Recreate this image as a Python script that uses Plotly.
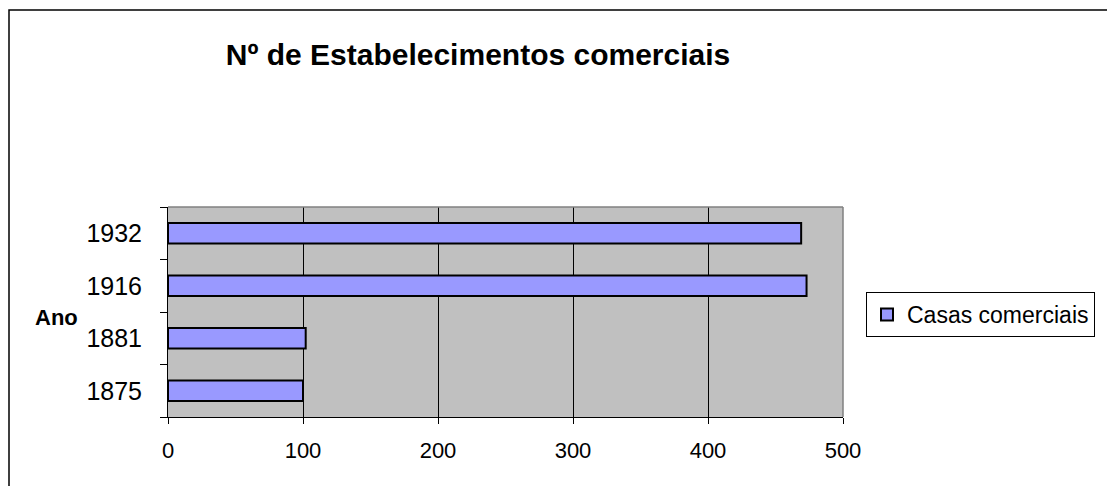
import plotly.graph_objects as go

categories = ["1875", "1881", "1916", "1932"]
values = [100, 102, 473, 469]
series_name = "Casas comerciais"
x_ticks = [0, 100, 200, 300, 400, 500]

W, H = 1107, 486
L, R, T, B = 168, 843, 207, 417

fig = go.Figure()
fig.add_trace(go.Bar(
    y=categories, x=values, orientation="h", name=series_name,
    marker=dict(color="#9999FF", line=dict(color="black", width=2)),
    width=0.39, showlegend=True,
))

def px(x):
    return (x - L) / (R - L)

def py(y):
    return (B - y) / (B - T)

FONT = "Liberation Sans, Arial, sans-serif"

fig.update_layout(
    width=W, height=H,
    margin=dict(l=L, r=W - R, t=T, b=H - B, pad=0, autoexpand=False),
    paper_bgcolor="white",
    plot_bgcolor="#C0C0C0",
    font=dict(family=FONT, color="black"),
    title=dict(text="<b>Nº de Estabelecimentos comerciais</b>", x=px(478), xref="paper",
               xanchor="center", y=1 - 54 / H, yanchor="middle", yref="container",
               font=dict(size=30, family=FONT), automargin=False),
    xaxis=dict(range=[0, 500], tickvals=x_ticks, showgrid=True, gridcolor="black", gridwidth=1,
               zeroline=False, showline=True, linecolor="black", linewidth=1,
               ticks="outside", ticklen=6, tickcolor="black", tickfont=dict(size=22),
               ticklabelstandoff=8, mirror=False, fixedrange=True, automargin=False),
    yaxis=dict(type="category", categoryorder="array", categoryarray=categories,
               showgrid=False, showline=True, linecolor="black", linewidth=1,
               ticks="outside", tickson="boundaries", ticklen=7, tickcolor="black",
               tickfont=dict(size=25), ticklabelstandoff=20, fixedrange=True, automargin=False),
    legend=dict(x=px(866), y=py(292), xanchor="left", yanchor="top",
                bordercolor="black", borderwidth=1, bgcolor="white",
                font=dict(size=23), itemwidth=30, tracegroupgap=0),
    bargap=0.61,
    shapes=[
        dict(type="rect", xref="paper", yref="paper", x0=px(9), x1=px(1108), y0=py(487), y1=py(10),
             line=dict(color="black", width=1.5), fillcolor="rgba(0,0,0,0)", layer="below"),
        dict(type="line", xref="paper", yref="paper", x0=0, x1=1, y0=1, y1=1,
             line=dict(color="#808080", width=1.5)),
        dict(type="line", xref="paper", yref="paper", x0=1, x1=1, y0=0, y1=1,
             line=dict(color="#808080", width=1.5)),
    ],
    annotations=[
        dict(text="<b>Ano</b>", xref="paper", yref="paper", x=px(56), y=py(317),
             xanchor="center", yanchor="middle", showarrow=False, font=dict(size=22)),
    ],
)

fig.write_html("out.html")
